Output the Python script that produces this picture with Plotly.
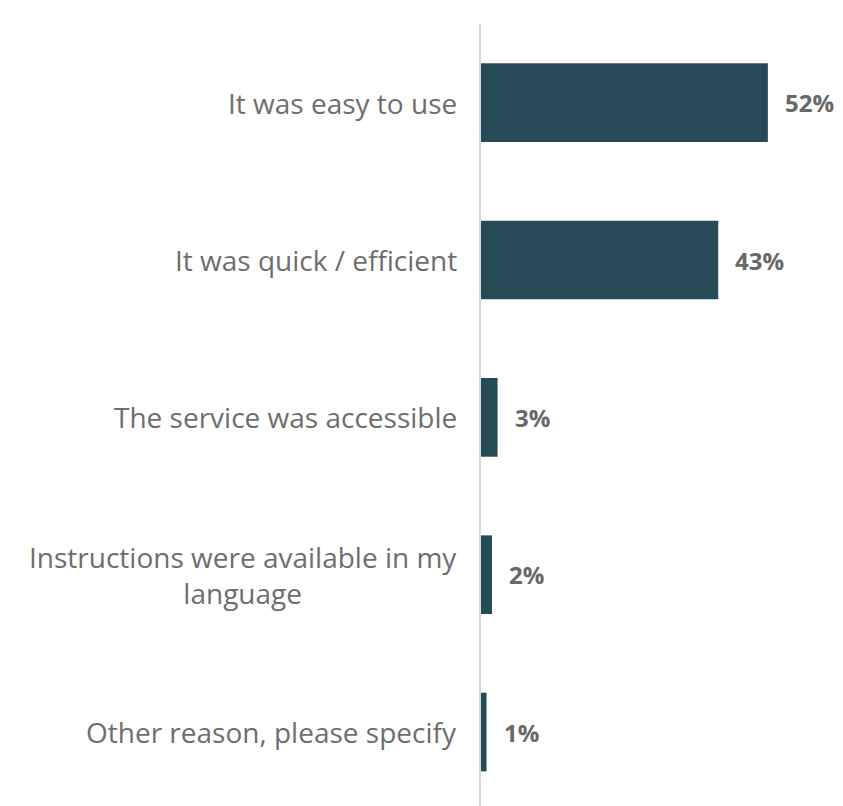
import plotly.graph_objects as go

categories = [
    "It was easy to use",
    "It was quick / efficient",
    "The service was accessible",
    "Instructions were available in my<br>language",
    "Other reason, please specify",
]
values = [52, 43, 3, 2, 1]
value_labels = [f"{v}%" for v in values]

BAR_COLOR = "#264B57"
LABEL_COLOR = "#6E6E6E"
VALUE_COLOR = "#686868"
FONT = "Open Sans"

positions = list(range(len(categories)))

fig = go.Figure(
    go.Bar(
        x=values,
        y=positions,
        orientation="h",
        width=0.5,
        marker=dict(color=BAR_COLOR, line=dict(width=0)),
        hoverinfo="skip",
    )
)

annotations = []
for pos, cat in zip(positions, categories):
    annotations.append(dict(
        x=0, xref="paper", y=pos, yref="y",
        text=cat, showarrow=False,
        xanchor="right", yanchor="middle", align="center",
        xshift=-22,
        font=dict(family=FONT, size=28, color=LABEL_COLOR),
    ))
for pos, v, lab in zip(positions, values, value_labels):
    annotations.append(dict(
        x=v, xref="x", y=pos, yref="y",
        text=f"<b>{lab}</b>", showarrow=False,
        xanchor="left", yanchor="middle",
        xshift=15,
        font=dict(family=FONT, size=24, color=VALUE_COLOR),
    ))

fig.update_layout(
    width=843,
    height=806,
    margin=dict(l=481, r=31, t=24, b=0),
    paper_bgcolor="white",
    plot_bgcolor="white",
    showlegend=False,
    annotations=annotations,
    xaxis=dict(
        range=[0, 60],
        showgrid=False, zeroline=False, showticklabels=False,
        showline=False, fixedrange=True,
    ),
    yaxis=dict(
        range=[4.47, -0.5],
        showgrid=False, zeroline=False, showticklabels=False,
        showline=True, linecolor="#D9D9D9", linewidth=2,
        fixedrange=True,
    ),
)

fig.write_html("out.html")
